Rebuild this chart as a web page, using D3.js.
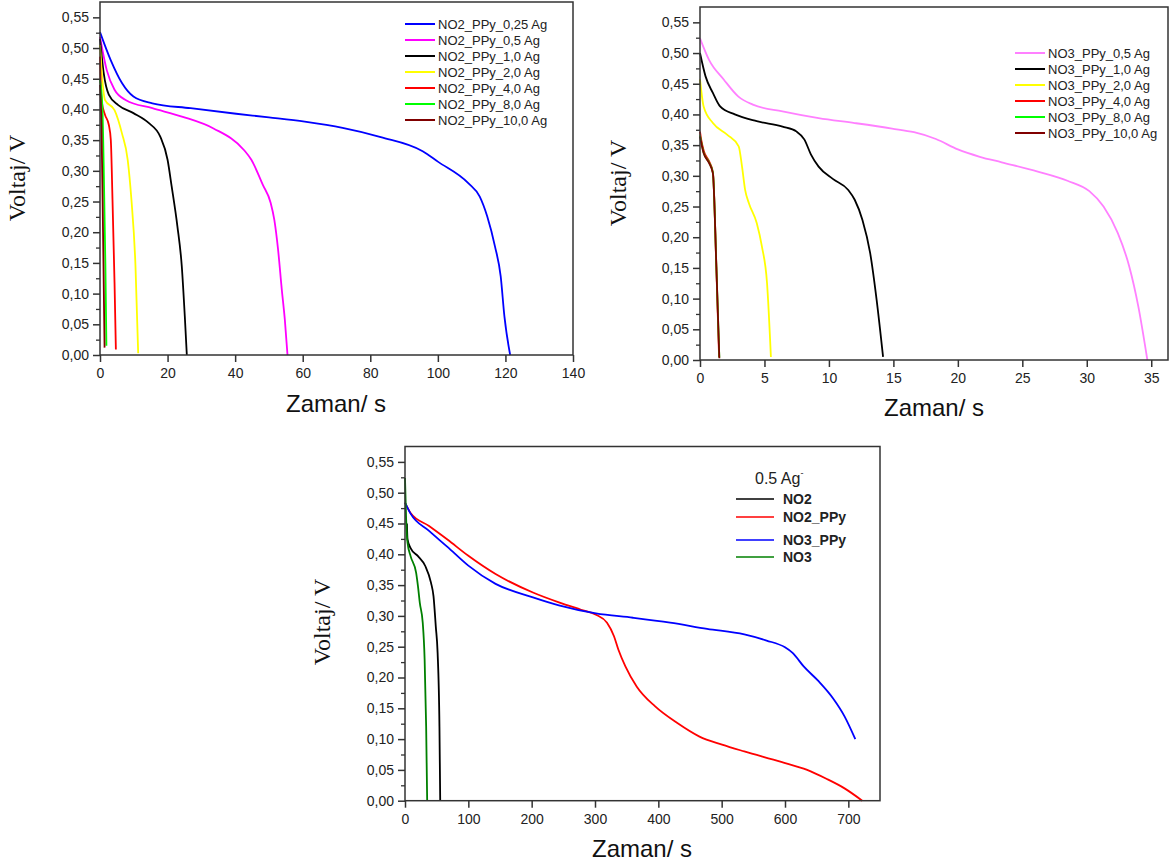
<!DOCTYPE html>
<html>
<head>
<meta charset="utf-8">
<script src="https://cdn.jsdelivr.net/npm/d3@7"></script>
<style>
  body { margin: 0; background: #fff; }
  svg { display: block; }
</style>
</head>
<body>
<div id="chart"></div>
<script>
// --- data: [time (s), voltage (V)] ---
const voltTicks = [0, 0.05, 0.10, 0.15, 0.20, 0.25, 0.30, 0.35, 0.40, 0.45, 0.50, 0.55];
const voltMinor = [0.025, 0.075, 0.125, 0.175, 0.225, 0.275, 0.325, 0.375, 0.425, 0.475, 0.525];

// panel 1: NO2_PPy
const timeTicksA = [0, 20, 40, 60, 80, 100, 120, 140];
const no2ppy_025 = [[0,0.526],[3.2,0.48],[6.5,0.443],[9.9,0.421],[15.5,0.41],[26.8,0.402],[40.3,0.393],[50,0.387],[60.6,0.38],[71.8,0.37],[83.1,0.355],[95.5,0.332],[100,0.315],[109,0.28],[112.4,0.258],[114.6,0.226],[116.9,0.177],[118.6,0.128],[119.7,0.063],[121.4,0]];
const no2ppy_05 = [[0,0.518],[2,0.464],[4.3,0.432],[7.7,0.415],[15.5,0.402],[24.5,0.388],[33.6,0.369],[42.6,0.334],[44.8,0.318],[48.2,0.277],[50.5,0.248],[51.6,0.22],[52.7,0.172],[53.8,0.107],[54.7,0.058],[55.5,0]];
const no2ppy_1 = [[0,0.515],[1.1,0.459],[2.6,0.424],[5.4,0.407],[9.9,0.394],[14.4,0.378],[17.8,0.356],[20,0.318],[21.2,0.275],[22.9,0.21],[24.2,0.145],[25.1,0.063],[25.7,0]];
const no2ppy_2 = [[0,0.505],[0.7,0.448],[1.5,0.415],[4.3,0.399],[6.5,0.361],[8.2,0.318],[9.3,0.253],[10.5,0.145],[11.3,0.003]];
const no2ppy_4 = [[0,0.486],[0.45,0.415],[1.5,0.391],[2.6,0.375],[3.2,0.35],[3.7,0.253],[4.3,0.118],[4.7,0.009]];
const no2ppy_8 = [[0,0.448],[0.7,0.405],[1.1,0.307],[1.6,0.145],[1.9,0.015]];
const no2ppy_10 = [[0,0.44],[0.45,0.372],[0.9,0.2],[1.35,0.012]];

// panel 2: NO3_PPy
const timeTicksB = [0, 5, 10, 15, 20, 25, 30, 35];
const no3ppy_05 = [[0,0.524],[0.7,0.489],[1.84,0.457],[2.98,0.429],[4.1,0.416],[6.4,0.405],[9.2,0.394],[12,0.386],[14.9,0.377],[16.6,0.371],[18.3,0.36],[20,0.343],[21.7,0.331],[23.4,0.322],[26.2,0.307],[28.5,0.292],[30.2,0.275],[31.3,0.25],[32.4,0.207],[33.3,0.152],[34,0.087],[34.7,0]];
const no3ppy_1 = [[0,0.5],[0.43,0.462],[1,0.435],[1.56,0.413],[2.7,0.4],[4.4,0.389],[6.4,0.38],[7.5,0.372],[8.1,0.359],[8.6,0.335],[9.2,0.315],[10.3,0.295],[11.5,0.277],[12,0.261],[12.6,0.228],[13.2,0.174],[13.7,0.098],[14.2,0.005]];
const no3ppy_2 = [[0,0.457],[0.28,0.413],[1,0.386],[2.1,0.367],[3,0.348],[3.26,0.315],[3.5,0.277],[3.8,0.255],[4.4,0.223],[4.8,0.185],[5.2,0.125],[5.5,0.005]];
const no3ppy_4 = [[0,0.372],[0.1,0.358],[0.3,0.34],[0.7,0.324],[1,0.306],[1.27,0.15],[1.48,0.005]];
const no3ppy_8 = [[0,0.366],[0.28,0.338],[0.7,0.322],[1,0.305],[1.27,0.152],[1.5,0.004]];
const no3ppy_10 = [[0,0.364],[0.28,0.337],[0.7,0.321],[1,0.304],[1.27,0.152],[1.5,0.003]];

// panel 3: comparison at 0.5 A/g
const timeTicksC = [0, 100, 200, 300, 400, 500, 600, 700];
const no2 = [[3,0.45],[4,0.424],[8.8,0.41],[20.5,0.397],[32,0.381],[41,0.354],[45,0.332],[48.6,0.283],[51.5,0.24],[54.4,0.12],[55.6,0]];
const no2ppy = [[0,0.484],[8.8,0.467],[38,0.446],[67,0.424],[99.5,0.398],[143,0.368],[202,0.338],[243,0.322],[278,0.31],[301.5,0.302],[319,0.289],[330,0.267],[337,0.245],[348,0.218],[366,0.185],[395,0.153],[430,0.126],[465,0.104],[500.6,0.091],[535.7,0.08],[594,0.063],[635,0.05],[664.5,0.036],[694,0.02],[722,0]];
const no3ppy = [[0,0.484],[8.8,0.466],[38,0.438],[67,0.412],[99.5,0.382],[143,0.352],[202,0.33],[243,0.317],[301.5,0.304],[360,0.297],[418.6,0.289],[477,0.279],[535.7,0.27],[571,0.26],[600,0.249],[612,0.24],[629.5,0.218],[653,0.194],[676,0.166],[694,0.137],[711,0.1]];
const no3 = [[0,0.524],[1.8,0.457],[4,0.419],[8.8,0.397],[17.6,0.37],[20.5,0.348],[23.4,0.321],[28,0.289],[31,0.229],[33.4,0.12],[35,0]];

const panels = [
  {
    xDomain: [0, 140], xRange: [100, 573], yRange: [355, 2], xTicks: timeTicksA,
    xTitle: [336, 412], yTitle: [25, 178],
    legend: { x: 405, y: 24, dy: 16, len: 30, size: 13, bold: false },
    series: [
      { name: "NO2_PPy_0,25 Ag", color: "#0000ff", data: no2ppy_025 },
      { name: "NO2_PPy_0,5 Ag", color: "#ff00ff", data: no2ppy_05 },
      { name: "NO2_PPy_1,0 Ag", color: "#000000", data: no2ppy_1 },
      { name: "NO2_PPy_2,0 Ag", color: "#ffff00", data: no2ppy_2 },
      { name: "NO2_PPy_4,0 Ag", color: "#ff0000", data: no2ppy_4 },
      { name: "NO2_PPy_8,0 Ag", color: "#00ff00", data: no2ppy_8 },
      { name: "NO2_PPy_10,0 Ag", color: "#800000", data: no2ppy_10 }
    ]
  },
  {
    xDomain: [0, 36.3], xRange: [700, 1168], yRange: [360, 7], xTicks: timeTicksB,
    xTitle: [934, 416], yTitle: [626, 183],
    legend: { x: 1015, y: 53, dy: 16, len: 30, size: 13, bold: false },
    series: [
      { name: "NO3_PPy_0,5 Ag", color: "#ff80ff", data: no3ppy_05 },
      { name: "NO3_PPy_1,0 Ag", color: "#000000", data: no3ppy_1 },
      { name: "NO3_PPy_2,0 Ag", color: "#ffff00", data: no3ppy_2 },
      { name: "NO3_PPy_4,0 Ag", color: "#ff0000", data: no3ppy_4 },
      { name: "NO3_PPy_8,0 Ag", color: "#00ff00", data: no3ppy_8 },
      { name: "NO3_PPy_10,0 Ag", color: "#800000", data: no3ppy_10 }
    ]
  },
  {
    xDomain: [0, 750], xRange: [405, 880], yRange: [800.7, 446.5], xTicks: timeTicksC,
    xTitle: [642, 857], yTitle: [330, 622],
    legend: { x: 736, y: 499, dy: null, rows: [499, 517, 540, 557], len: 38, size: 14, bold: true,
              title: "0.5 Ag", titleX: 755, titleY: 484 },
    series: [
      { name: "NO2", color: "#000000", data: no2 },
      { name: "NO2_PPy", color: "#ff0000", data: no2ppy },
      { name: "NO3_PPy", color: "#0000ff", data: no3ppy },
      { name: "NO3", color: "#008000", data: no3 }
    ]
  }
];

const width = 1170, height = 863;
const svg = d3.select("#chart").append("svg")
    .attr("width", width)
    .attr("height", height)
    .attr("viewBox", [0, 0, width, height]);

const sans = "'Liberation Sans', Arial, sans-serif";
const axisColor = "#333";
const fmt = d => d.toFixed(2).replace(".", ",");

panels.forEach(p => {
  const x = d3.scaleLinear().domain(p.xDomain).range(p.xRange);
  const y = d3.scaleLinear().domain([0, 0.575]).range(p.yRange);
  const g = svg.append("g");

  // curves
  const line = d3.line()
      .curve(d3.curveMonotoneX)
      .x(d => x(d[0]))
      .y(d => y(d[1]));

  p.series.forEach(s => {
    g.append("path")
        .datum(s.data)
        .attr("fill", "none")
        .attr("stroke", s.color)
        .attr("stroke-width", 1.8)
        .attr("stroke-linejoin", "round")
        .attr("d", line);
  });

  // frame
  g.append("rect")
      .attr("x", p.xRange[0])
      .attr("y", p.yRange[1])
      .attr("width", p.xRange[1] - p.xRange[0])
      .attr("height", p.yRange[0] - p.yRange[1])
      .attr("fill", "none")
      .attr("stroke", axisColor)
      .attr("stroke-width", 1.5);

  // y axis: major + minor
  g.append("g")
      .attr("transform", `translate(${p.xRange[0]},0)`)
      .call(d3.axisLeft(y).tickValues(voltMinor).tickSize(4).tickFormat(""))
      .call(a => a.select(".domain").remove())
      .call(a => a.selectAll("line").attr("stroke", axisColor).attr("stroke-width", 1.3));

  g.append("g")
      .attr("transform", `translate(${p.xRange[0]},0)`)
      .call(d3.axisLeft(y).tickValues(voltTicks).tickSize(7).tickPadding(4).tickFormat(fmt))
      .call(a => a.select(".domain").remove())
      .call(a => a.selectAll("line").attr("stroke", axisColor).attr("stroke-width", 1.5))
      .call(a => a.selectAll("text").attr("font-family", sans).attr("font-size", 14).attr("fill", "#222"));

  // x axis
  g.append("g")
      .attr("transform", `translate(0,${p.yRange[0]})`)
      .call(d3.axisBottom(x).tickValues(p.xTicks).tickSize(7).tickPadding(6).tickFormat(d3.format("d")))
      .call(a => a.select(".domain").remove())
      .call(a => a.selectAll("line").attr("stroke", axisColor).attr("stroke-width", 1.5))
      .call(a => a.selectAll("text").attr("font-family", sans).attr("font-size", 14).attr("fill", "#222"));

  // titles
  g.append("text")
      .attr("x", p.xTitle[0])
      .attr("y", p.xTitle[1])
      .attr("text-anchor", "middle")
      .attr("font-family", sans)
      .attr("font-size", 24)
      .attr("fill", "#111")
      .text("Zaman/ s");

  g.append("text")
      .attr("transform", `translate(${p.yTitle[0]},${p.yTitle[1]}) rotate(-90)`)
      .attr("text-anchor", "middle")
      .attr("font-family", "'Liberation Serif', 'Times New Roman', serif")
      .attr("font-size", 24)
      .attr("fill", "#111")
      .text("Voltaj/ V");

  // legend
  const L = p.legend;
  if (L.title) {
    const t = g.append("text")
        .attr("x", L.titleX)
        .attr("y", L.titleY)
        .attr("font-family", sans)
        .attr("font-size", 16)
        .attr("fill", "#222")
        .text(L.title);
    t.append("tspan")
        .attr("dy", -8)
        .attr("font-size", 9)
        .text("-");
  }
  p.series.forEach((s, i) => {
    const cy = L.rows ? L.rows[i] : L.y + i * L.dy;
    g.append("line")
        .attr("x1", L.x).attr("x2", L.x + L.len)
        .attr("y1", cy).attr("y2", cy)
        .attr("stroke", s.color)
        .attr("stroke-width", L.bold ? 1.6 : 2);
    g.append("text")
        .attr("x", L.x + L.len + (L.bold ? 9 : 3))
        .attr("y", cy)
        .attr("dy", "0.35em")
        .attr("font-family", sans)
        .attr("font-size", L.size)
        .attr("font-weight", L.bold ? "bold" : "normal")
        .attr("fill", "#222")
        .text(s.name);
  });
});
</script>
</body>
</html>
